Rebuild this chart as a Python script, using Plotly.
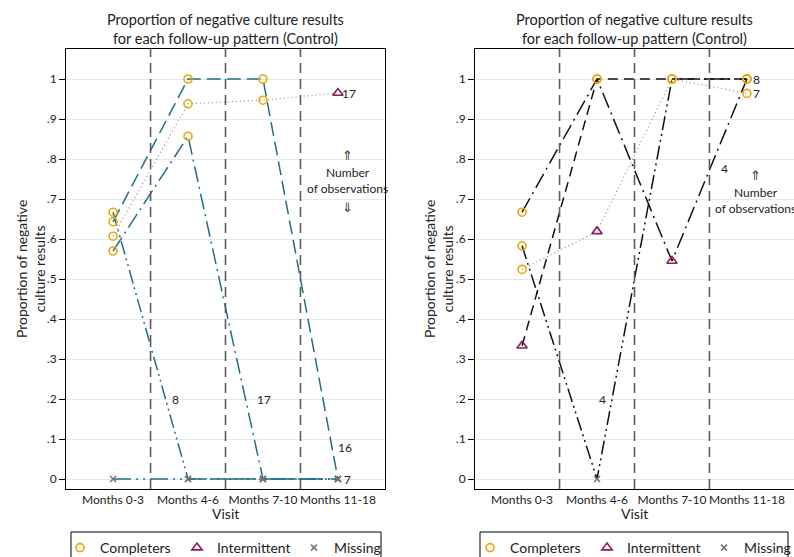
import plotly.graph_objects as go

# ---------------- data ----------------
visits = ["Months 0-3", "Months 4-6", "Months 7-10", "Months 11-18"]
visit_pos = [1, 2, 3, 4]
ytick_vals = [0, 0.1, 0.2, 0.3, 0.4, 0.5, 0.6, 0.7, 0.8, 0.9, 1.0]
ytick_text = ["0", ".1", ".2", ".3", ".4", ".5", ".6", ".7", ".8", ".9", "1"]

# marker type per point: C = Completers, I = Intermittent, M = Missing
# Left panel follow-up patterns
left_a = [0.643, 1.0, 1.0, 0.0]
left_a_type = ["C", "C", "C", "M"]
left_a_n = "16"
left_b = [0.607, 0.938, 0.947, 0.965]
left_b_type = ["C", "C", "C", "I"]
left_b_n = "17"
left_c = [0.570, 0.857, 0.0, 0.0]
left_c_type = ["C", "C", "M", "M"]
left_c_n = "17"
left_d = [0.667, 0.0, 0.0, 0.0]
left_d_type = ["C", "M", "M", "M"]
left_d_n = "8"
left_e = [0.0, 0.0, 0.0, 0.0]
left_e_type = ["M", "M", "M", "M"]
left_e_n = "7"

# Right panel follow-up patterns
right_a = [0.667, 1.0, 0.545, 1.0]
right_a_type = ["C", "C", "I", "C"]
right_a_n = "4"
right_b = [0.333, 1.0, 1.0, 1.0]
right_b_type = ["I", "C", "C", "C"]
right_b_n = "8"
right_c = [0.524, 0.619, 1.0, 0.964]
right_c_type = ["C", "I", "C", "C"]
right_c_n = "7"
right_d = [0.583, 0.0, 1.0, 1.0]
right_d_type = ["C", "M", "C", "C"]
right_d_n = "4"

marker_names = {"C": "Completers", "I": "Intermittent", "M": "Missing"}

# ---------------- style ----------------
FONT = "Lato, 'Open Sans', 'DejaVu Sans', sans-serif"
TEAL = "#1f6f8b"
GRAY_DOT = "#8a8a8a"
BLACK = "#111111"
marker_style = {
    "C": dict(symbol="circle-open", size=8, color="#f0a500", line=dict(width=1.6, color="#f0a500")),
    "I": dict(symbol="triangle-up-open", size=9, color="#8b1a5c", line=dict(width=1.6, color="#8b1a5c")),
    "M": dict(symbol="x-thin-open", size=6, color="#7a7068", line=dict(width=1.5, color="#7a7068")),
}

left_patterns = [
    (left_a, left_a_type, left_a_n, TEAL, "14px,6px", (4.10, 0.078)),
    (left_b, left_b_type, left_b_n, GRAY_DOT, "1px,3px", (4.15, 0.965)),
    (left_c, left_c_type, left_c_n, TEAL, "16px,5px,2px,5px", (3.01, 0.20)),
    (left_d, left_d_type, left_d_n, TEAL, "14px,4px,2px,4px,2px,4px", (1.83, 0.20)),
    (left_e, left_e_type, left_e_n, TEAL, "18px,5px,2px,5px,2px,5px", (4.13, 0.0)),
]
right_patterns = [
    (right_a, right_a_type, right_a_n, BLACK, "16px,5px,2px,5px", (3.70, 0.777)),
    (right_b, right_b_type, right_b_n, BLACK, "10px,6px", (4.13, 1.0)),
    (right_c, right_c_type, right_c_n, GRAY_DOT, "1px,3px", (4.13, 0.964)),
    (right_d, right_d_type, right_d_n, BLACK, "14px,4px,2px,4px,2px,4px", (2.07, 0.20)),
]

fig = go.Figure()
annotations = []

panels = [
    (left_patterns, "x", "y", "legend"),
    (right_patterns, "x2", "y2", "legend2"),
]

for patterns, xa, ya, leg in panels:
    for vals, types, n, col, dash, lab in patterns:
        w = 1.2 if col == GRAY_DOT else 1.5
        fig.add_trace(go.Scatter(x=visit_pos, y=vals, mode="lines", xaxis=xa, yaxis=ya,
                                 line=dict(color=col, width=w, dash=dash),
                                 showlegend=False, hoverinfo="skip"))
        annotations.append(dict(x=lab[0], y=lab[1], xref=xa, yref=ya, text=n, showarrow=False,
                                xanchor="center", yanchor="middle",
                                font=dict(size=12, color="#222", family=FONT)))
    for key in ["C", "I", "M"]:
        xs, ys = [], []
        for vals, types, *_ in patterns:
            for xp, v, t in zip(visit_pos, vals, types):
                if t == key:
                    xs.append(xp)
                    ys.append(v)
        fig.add_trace(go.Scatter(x=xs, y=ys, mode="markers", xaxis=xa, yaxis=ya,
                                 marker=marker_style[key], name=marker_names[key],
                                 legend=leg, showlegend=True))

W, H = 794, 557

# vertical dashed separators
shapes = []
for xa in ["x", "x2"]:
    for xv in [1.5, 2.5, 3.5]:
        shapes.append(dict(type="line", xref=xa, yref=("y domain" if xa == "x" else "y2 domain"),
                           x0=xv, x1=xv, y0=0, y1=1,
                           line=dict(color="#5c5c5c", width=1.6, dash="10px,6px"), layer="above"))
# legend frames
for x0, x1 in [(71, 381), (480, 788)]:
    shapes.append(dict(type="rect", xref="paper", yref="paper", x0=x0 / W, x1=x1 / W,
                       y0=1 - 532 / H, y1=1 - 562 / H, line=dict(color="black", width=1),
                       fillcolor="rgba(0,0,0,0)"))

yd = [1 - 489 / H, 1 - 49 / H]
xd1 = [66 / W, 385 / W]
xd2 = [475 / W, 1.0]
xr = [0.372, 4.628]
yr = [-0.025, 1.075]

axis_common_x = dict(range=xr, tickvals=visit_pos, ticktext=visits, showgrid=False, zeroline=False,
                     showline=True, linecolor="black", linewidth=1, ticks="", tickangle=0,
                     tickfont=dict(size=12, family=FONT, color="#222"), fixedrange=True)
axis_common_y = dict(range=yr, tickvals=ytick_vals, ticktext=ytick_text, showgrid=True,
                     gridcolor="#e1e9ec", gridwidth=1, zeroline=False, showline=True,
                     linecolor="black", linewidth=1, ticks="outside", ticklen=6, tickcolor="black",
                     tickfont=dict(size=12, family=FONT, color="#222"), fixedrange=True)

legend_common = dict(orientation="h", xanchor="left", y=1 - 532 / H, yanchor="top",
                     borderwidth=0, font=dict(size=14, family=FONT, color="#222"),
                     entrywidth=72, entrywidthmode="pixels", itemwidth=30,
                     bgcolor="rgba(0,0,0,0)")

fig.update_layout(
    width=W, height=H, margin=dict(l=0, r=0, t=0, b=0, autoexpand=False),
    paper_bgcolor="white", plot_bgcolor="white",
    font=dict(family=FONT, color="#222"),
    xaxis=dict(domain=xd1, mirror=True, anchor="y", **axis_common_x),
    yaxis=dict(domain=yd, mirror=True, anchor="x", **axis_common_y),
    xaxis2=dict(domain=xd2, mirror=True, anchor="y2", **axis_common_x),
    yaxis2=dict(domain=yd, mirror=False, anchor="x2", **axis_common_y),
    shapes=shapes,
    legend=dict(x=60 / W, **legend_common),
    legend2=dict(x=470 / W, **legend_common),
)

title_text = "Proportion of negative culture results<br>for each follow-up pattern (Control)"
for cx in [(xd1[0] + xd1[1]) / 2, (xd2[0] + xd2[1]) / 2]:
    annotations.append(dict(x=cx, y=1 - 29 / H, xref="paper", yref="paper", text=title_text,
                            showarrow=False, xanchor="center", yanchor="middle",
                            font=dict(size=14.5, family=FONT, color="#222")))
    annotations.append(dict(x=cx, y=1 - 513 / H, xref="paper", yref="paper", text="Visit",
                            showarrow=False, xanchor="center", yanchor="middle",
                            font=dict(size=14, family=FONT, color="#222")))

for px in [30, 438]:
    annotations.append(dict(x=px / W, y=(yd[0] + yd[1]) / 2, xref="paper", yref="paper",
                            text="Proportion of negative<br>culture results", textangle=-90,
                            showarrow=False, xanchor="center", yanchor="middle",
                            font=dict(size=14, family=FONT, color="#222")))

# "Number of observations" notes
notes = [
    ("x", "y", 4.13, 0.808, 0.746, 0.678),
    ("x2", "y2", 4.12, 0.76, 0.696, None),
]
for xa, ya, xv, up_y, mid_y, down_y in notes:
    annotations.append(dict(x=xv, y=up_y, xref=xa, yref=ya, text="⇑", showarrow=False,
                            xanchor="center", yanchor="middle",
                            font=dict(size=13, family="DejaVu Sans", color="#333")))
    annotations.append(dict(x=xv, y=mid_y, xref=xa, yref=ya, text="Number<br>of observations",
                            showarrow=False, xanchor="center", yanchor="middle",
                            font=dict(size=12, family=FONT, color="#222")))
    if down_y is not None:
        annotations.append(dict(x=xv, y=down_y, xref=xa, yref=ya, text="⇓", showarrow=False,
                                xanchor="center", yanchor="middle",
                                font=dict(size=13, family="DejaVu Sans", color="#333")))

fig.update_layout(annotations=annotations)
fig.write_html("out.html")
